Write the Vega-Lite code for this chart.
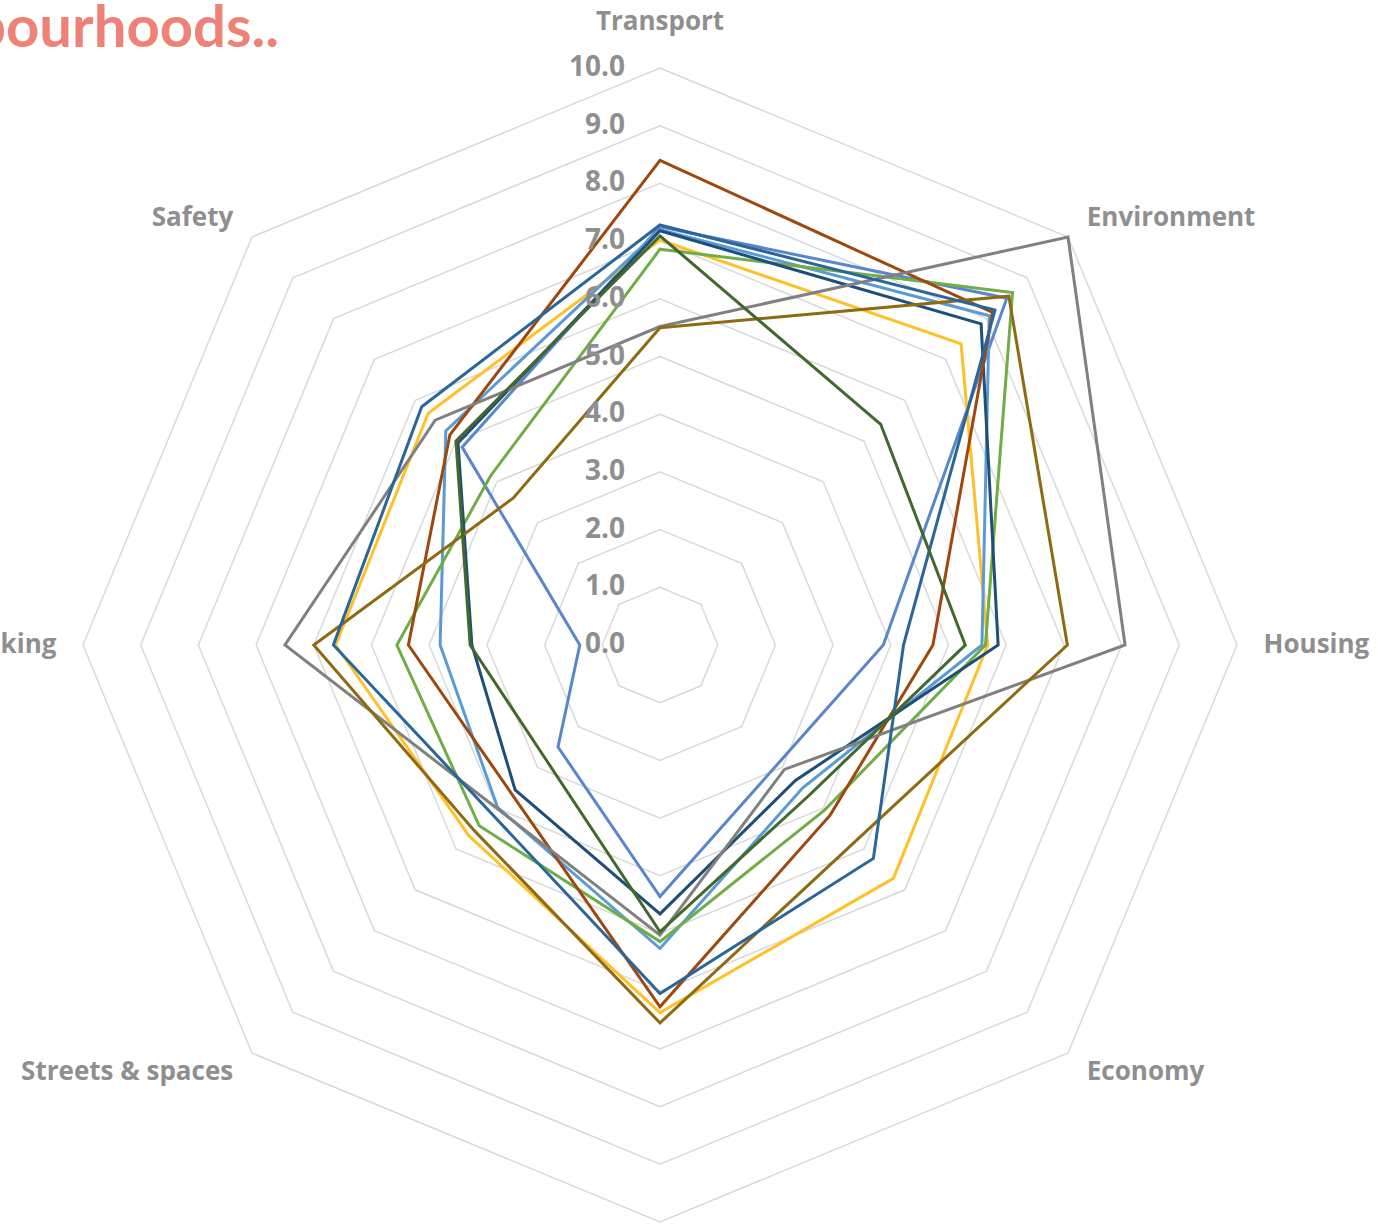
{
  "$schema": "https://vega.github.io/schema/vega-lite/v6.json",
  "width": 1383,
  "height": 1225,
  "autosize": {"type": "none"},
  "padding": 0,
  "background": "white",
  "config": {"view": {"stroke": null}},
  "title": {
    "text": "Neighbourhoods..",
    "frame": "group",
    "anchor": "start",
    "align": "right",
    "baseline": "alphabetic",
    "offset": 0,
    "dx": 279,
    "dy": 105,
    "font": "Lato",
    "fontSize": 58,
    "fontWeight": "bold",
    "color": "#EE8276"
  },
  "datasets": {
    "scores": [
      {"s": "Series 1", "axis": "Transport", "v": 7.25},
      {"s": "Series 1", "axis": "Environment", "v": 8.5},
      {"s": "Series 1", "axis": "Housing", "v": 3.87},
      {"s": "Series 1", "axis": "Economy", "v": 2.9},
      {"s": "Series 1", "axis": "Community", "v": 4.36},
      {"s": "Series 1", "axis": "Streets & spaces", "v": 2.5},
      {"s": "Series 1", "axis": "Decision making", "v": 1.39},
      {"s": "Series 1", "axis": "Safety", "v": 4.85},
      {"s": "Series 2", "axis": "Transport", "v": 7.02},
      {"s": "Series 2", "axis": "Environment", "v": 7.38},
      {"s": "Series 2", "axis": "Housing", "v": 5.68},
      {"s": "Series 2", "axis": "Economy", "v": 5.72},
      {"s": "Series 2", "axis": "Community", "v": 6.37},
      {"s": "Series 2", "axis": "Streets & spaces", "v": 4.68},
      {"s": "Series 2", "axis": "Decision making", "v": 5.62},
      {"s": "Series 2", "axis": "Safety", "v": 5.68},
      {"s": "Series 3", "axis": "Transport", "v": 7.2},
      {"s": "Series 3", "axis": "Environment", "v": 8.07},
      {"s": "Series 3", "axis": "Housing", "v": 5.58},
      {"s": "Series 3", "axis": "Economy", "v": 3.5},
      {"s": "Series 3", "axis": "Community", "v": 5.26},
      {"s": "Series 3", "axis": "Streets & spaces", "v": 3.98},
      {"s": "Series 3", "axis": "Decision making", "v": 3.81},
      {"s": "Series 3", "axis": "Safety", "v": 5.25},
      {"s": "Series 4", "axis": "Transport", "v": 6.86},
      {"s": "Series 4", "axis": "Environment", "v": 8.64},
      {"s": "Series 4", "axis": "Housing", "v": 5.64},
      {"s": "Series 4", "axis": "Economy", "v": 4.04},
      {"s": "Series 4", "axis": "Community", "v": 5.14},
      {"s": "Series 4", "axis": "Streets & spaces", "v": 4.43},
      {"s": "Series 4", "axis": "Decision making", "v": 4.56},
      {"s": "Series 4", "axis": "Safety", "v": 4.15},
      {"s": "Series 5", "axis": "Transport", "v": 7.18},
      {"s": "Series 5", "axis": "Environment", "v": 7.87},
      {"s": "Series 5", "axis": "Housing", "v": 5.86},
      {"s": "Series 5", "axis": "Economy", "v": 3.32},
      {"s": "Series 5", "axis": "Community", "v": 4.66},
      {"s": "Series 5", "axis": "Streets & spaces", "v": 3.55},
      {"s": "Series 5", "axis": "Decision making", "v": 3.26},
      {"s": "Series 5", "axis": "Safety", "v": 4.95},
      {"s": "Series 6", "axis": "Transport", "v": 8.4},
      {"s": "Series 6", "axis": "Environment", "v": 8.15},
      {"s": "Series 6", "axis": "Housing", "v": 4.73},
      {"s": "Series 6", "axis": "Economy", "v": 4.17},
      {"s": "Series 6", "axis": "Community", "v": 6.27},
      {"s": "Series 6", "axis": "Streets & spaces", "v": 3.64},
      {"s": "Series 6", "axis": "Decision making", "v": 4.36},
      {"s": "Series 6", "axis": "Safety", "v": 5.15},
      {"s": "Series 7", "axis": "Transport", "v": 5.52},
      {"s": "Series 7", "axis": "Environment", "v": 10.0},
      {"s": "Series 7", "axis": "Housing", "v": 8.06},
      {"s": "Series 7", "axis": "Economy", "v": 3.05},
      {"s": "Series 7", "axis": "Community", "v": 5.03},
      {"s": "Series 7", "axis": "Streets & spaces", "v": 4.0},
      {"s": "Series 7", "axis": "Decision making", "v": 6.5},
      {"s": "Series 7", "axis": "Safety", "v": 5.51},
      {"s": "Series 8", "axis": "Transport", "v": 5.5},
      {"s": "Series 8", "axis": "Environment", "v": 8.55},
      {"s": "Series 8", "axis": "Housing", "v": 7.06},
      {"s": "Series 8", "axis": "Economy", "v": 4.8},
      {"s": "Series 8", "axis": "Community", "v": 6.55},
      {"s": "Series 8", "axis": "Streets & spaces", "v": 4.55},
      {"s": "Series 8", "axis": "Decision making", "v": 6.0},
      {"s": "Series 8", "axis": "Safety", "v": 3.6},
      {"s": "Series 9", "axis": "Transport", "v": 7.28},
      {"s": "Series 9", "axis": "Environment", "v": 8.21},
      {"s": "Series 9", "axis": "Housing", "v": 4.22},
      {"s": "Series 9", "axis": "Economy", "v": 5.23},
      {"s": "Series 9", "axis": "Community", "v": 6.04},
      {"s": "Series 9", "axis": "Streets & spaces", "v": 4.13},
      {"s": "Series 9", "axis": "Decision making", "v": 5.66},
      {"s": "Series 9", "axis": "Safety", "v": 5.84},
      {"s": "Series 10", "axis": "Transport", "v": 7.09},
      {"s": "Series 10", "axis": "Environment", "v": 5.41},
      {"s": "Series 10", "axis": "Housing", "v": 5.29},
      {"s": "Series 10", "axis": "Economy", "v": 3.67},
      {"s": "Series 10", "axis": "Community", "v": 4.97},
      {"s": "Series 10", "axis": "Streets & spaces", "v": 2.8},
      {"s": "Series 10", "axis": "Decision making", "v": 3.29},
      {"s": "Series 10", "axis": "Safety", "v": 5.0}
    ],
    "grid": [
      {"level": 0, "k": [0, 1, 2, 3, 4, 5, 6, 7]},
      {"level": 1, "k": [0, 1, 2, 3, 4, 5, 6, 7]},
      {"level": 2, "k": [0, 1, 2, 3, 4, 5, 6, 7]},
      {"level": 3, "k": [0, 1, 2, 3, 4, 5, 6, 7]},
      {"level": 4, "k": [0, 1, 2, 3, 4, 5, 6, 7]},
      {"level": 5, "k": [0, 1, 2, 3, 4, 5, 6, 7]},
      {"level": 6, "k": [0, 1, 2, 3, 4, 5, 6, 7]},
      {"level": 7, "k": [0, 1, 2, 3, 4, 5, 6, 7]},
      {"level": 8, "k": [0, 1, 2, 3, 4, 5, 6, 7]},
      {"level": 9, "k": [0, 1, 2, 3, 4, 5, 6, 7]},
      {"level": 10, "k": [0, 1, 2, 3, 4, 5, 6, 7]}
    ],
    "axes": [
      {"axis": "Transport", "k": 0},
      {"axis": "Environment", "k": 1},
      {"axis": "Housing", "k": 2},
      {"axis": "Economy", "k": 3},
      {"axis": "Community", "k": 4},
      {"axis": "Streets & spaces", "k": 5},
      {"axis": "Decision making", "k": 6},
      {"axis": "Safety", "k": 7}
    ]
  },
  "encoding": {
    "x": {"field": "px", "type": "quantitative", "scale": {"domain": [-11.438, 12.53], "nice": false, "zero": false}, "axis": null},
    "y": {"field": "py", "type": "quantitative", "scale": {"domain": [-10.052, 11.179], "nice": false, "zero": false}, "axis": null}
  },
  "layer": [
    {
      "data": {"name": "grid"},
      "transform": [
        {"flatten": ["k"]},
        {"calculate": "datum.level * sin(datum.k * PI / 4)", "as": "px"},
        {"calculate": "datum.level * cos(datum.k * PI / 4)", "as": "py"}
      ],
      "mark": {"type": "line", "interpolate": "linear-closed", "stroke": "#D9D9D9", "strokeWidth": 1.5, "clip": false},
      "encoding": {
        "detail": {"field": "level", "type": "nominal"},
        "order": {"field": "k", "type": "quantitative"}
      }
    },
    {
      "data": {"name": "scores"},
      "transform": [
        {"calculate": "indexof(['Transport','Environment','Housing','Economy','Community','Streets & spaces','Decision making','Safety'], datum.axis)", "as": "k"},
        {"calculate": "datum.v * sin(datum.k * PI / 4)", "as": "px"},
        {"calculate": "datum.v * cos(datum.k * PI / 4)", "as": "py"}
      ],
      "mark": {"type": "line", "interpolate": "linear-closed", "strokeWidth": 3, "strokeJoin": "miter", "clip": false},
      "encoding": {
        "color": {
          "field": "s",
          "type": "nominal",
          "scale": {
            "domain": ["Series 1", "Series 2", "Series 3", "Series 4", "Series 5", "Series 6", "Series 7", "Series 8", "Series 9", "Series 10"],
            "range": ["#5A86CC", "#FFC02A", "#5B9BD5", "#70AD47", "#1F4E79", "#9E480E", "#808080", "#8F6A12", "#2A6699", "#43682B"]
          },
          "legend": null
        },
        "order": {"field": "k", "type": "quantitative"}
      }
    },
    {
      "data": {"name": "grid"},
      "transform": [
        {"flatten": ["k"]},
        {"filter": "datum.k == 0"},
        {"calculate": "datum.level * sin(datum.k * PI / 4)", "as": "px"},
        {"calculate": "datum.level * cos(datum.k * PI / 4)", "as": "py"}
      ],
      "mark": {"type": "text", "align": "right", "baseline": "middle", "dx": -35, "font": "Open Sans", "fontSize": 28, "fontWeight": "bold", "color": "#8F8F8F"},
      "encoding": {
        "text": {"field": "level", "type": "quantitative", "format": ".1f"}
      }
    },
    {
      "data": {"name": "axes"},
      "transform": [
        {"filter": "datum.k >= 1 && datum.k <= 3"},
        {"calculate": "10.46 * sin(datum.k * PI / 4)", "as": "px"},
        {"calculate": "10.46 * cos(datum.k * PI / 4)", "as": "py"}
      ],
      "mark": {"type": "text", "align": "left", "baseline": "middle", "font": "Open Sans", "fontSize": 26, "fontWeight": "bold", "color": "#8F8F8F"},
      "encoding": {"text": {"field": "axis", "type": "nominal"}}
    },
    {
      "data": {"name": "axes"},
      "transform": [
        {"filter": "datum.k >= 5"},
        {"calculate": "10.46 * sin(datum.k * PI / 4)", "as": "px"},
        {"calculate": "10.46 * cos(datum.k * PI / 4)", "as": "py"}
      ],
      "mark": {"type": "text", "align": "right", "baseline": "middle", "font": "Open Sans", "fontSize": 26, "fontWeight": "bold", "color": "#8F8F8F"},
      "encoding": {"text": {"field": "axis", "type": "nominal"}}
    },
    {
      "data": {"name": "axes"},
      "transform": [
        {"filter": "datum.k == 0"},
        {"calculate": "10.46 * sin(datum.k * PI / 4)", "as": "px"},
        {"calculate": "10.46 * cos(datum.k * PI / 4)", "as": "py"}
      ],
      "mark": {"type": "text", "align": "center", "baseline": "middle", "dy": -19, "font": "Open Sans", "fontSize": 26, "fontWeight": "bold", "color": "#8F8F8F"},
      "encoding": {"text": {"field": "axis", "type": "nominal"}}
    },
    {
      "data": {"name": "axes"},
      "transform": [
        {"filter": "datum.k == 4"},
        {"calculate": "10.46 * sin(datum.k * PI / 4)", "as": "px"},
        {"calculate": "10.46 * cos(datum.k * PI / 4)", "as": "py"}
      ],
      "mark": {"type": "text", "align": "center", "baseline": "middle", "dy": 20, "font": "Open Sans", "fontSize": 26, "fontWeight": "bold", "color": "#8F8F8F"},
      "encoding": {"text": {"field": "axis", "type": "nominal"}}
    }
  ]
}
